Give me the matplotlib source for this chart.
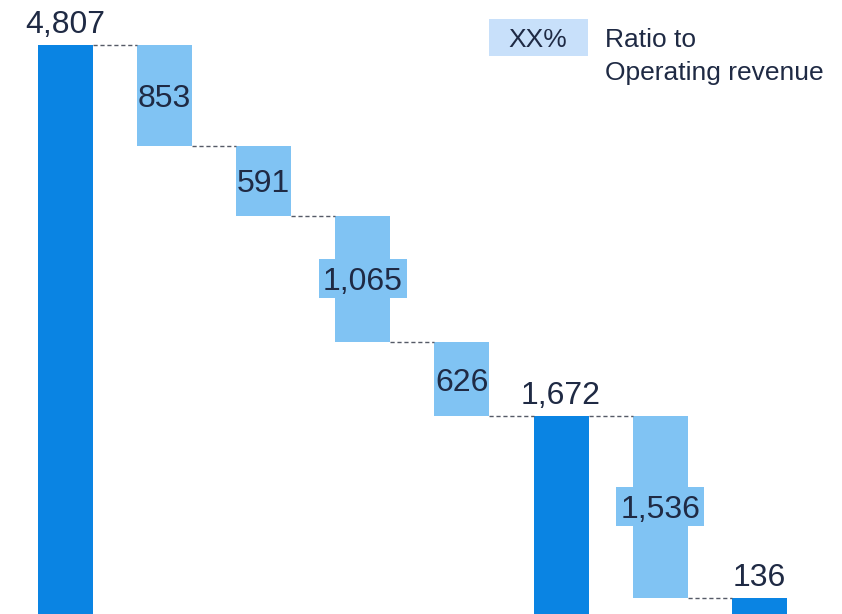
import matplotlib.pyplot as plt
import numpy as np
from matplotlib.transforms import IdentityTransform

plt.rcParams['font.family'] = ['Liberation Sans', 'DejaVu Sans']

# waterfall steps: totals and decrements
values = [4807, 853, 591, 1065, 626, 1672, 1536, 136]
is_total = [True, False, False, False, False, True, False, True]
labels = ["4,807", "853", "591", "1,065", "626", "1,672", "1,536", "136"]

DARK = "#0a84e3"
LIGHT = "#80c3f3"
TEXT = "#1f2a44"

fig = plt.figure(figsize=(8.42, 6.14), dpi=100)
ax = fig.add_axes([0, 0, 1, 1])

x = np.arange(len(values))
width = 0.555

bottoms = []
tops = []
level = 0
for v, tot in zip(values, is_total):
    if tot:
        bottoms.append(0)
        tops.append(v)
        level = v
    else:
        bottoms.append(level - v)
        tops.append(level)
        level = level - v

heights = [t - b for t, b in zip(tops, bottoms)]
colors = [DARK if t else LIGHT for t in is_total]
ax.bar(x, heights, bottom=bottoms, width=width, color=colors, linewidth=0)

ax.set_xlim(-0.661, 7.835)
ax.set_ylim(0, 5187)
ax.axis("off")

# connectors
for i in range(len(values) - 1):
    y = tops[i] if is_total[i] else bottoms[i]
    ax.plot([x[i] + width / 2, x[i + 1] - width / 2], [y, y],
            color="#555a66", lw=1, ls=(0, (3, 2)))

inner = []
for i, (lab, tot) in enumerate(zip(labels, is_total)):
    if tot:
        ax.annotate(lab, (x[i], tops[i]), xytext=(0, 5), textcoords="offset pixels",
                    ha="center", va="bottom", fontsize=23, color=TEXT)
    else:
        t = ax.annotate(lab, (x[i], (tops[i] + bottoms[i]) / 2), xytext=(0, -3.5),
                        textcoords="offset pixels", ha="center", va="center",
                        fontsize=23, color=TEXT, zorder=5)
        inner.append((t, x[i], (tops[i] + bottoms[i]) / 2))

# label boxes behind inner labels that are wider than the bar
fig.canvas.draw()
r = fig.canvas.get_renderer()
bar_px = ax.transData.transform((width, 0))[0] - ax.transData.transform((0, 0))[0]
for t, xi, mid in inner:
    ext = t.get_window_extent(r)
    if ext.width <= bar_px + 4:
        continue
    cx, cy = ax.transData.transform((xi, mid))
    w = ext.width + 8
    h = 39
    box = plt.Rectangle((cx - w / 2, cy - h / 2), w, h, fc=LIGHT, ec="none", zorder=3)
    box.set_transform(IdentityTransform())
    ax.add_artist(box)

# legend
ax.add_artist(plt.Rectangle((489 / 842, 1 - 56 / 614), 99 / 842, 37 / 614,
                            transform=fig.transFigure, fc="#c8e0fa", ec="none"))
fig.text(538 / 842, 1 - 47 / 614, "XX%", ha="center", va="baseline", fontsize=19, color=TEXT)
fig.text(605 / 842, 1 - 47 / 614, "Ratio to", ha="left", va="baseline", fontsize=19, color=TEXT)
fig.text(605 / 842, 1 - 80 / 614, "Operating revenue", ha="left", va="baseline", fontsize=19, color=TEXT)

fig.savefig("out.png", dpi=100)
